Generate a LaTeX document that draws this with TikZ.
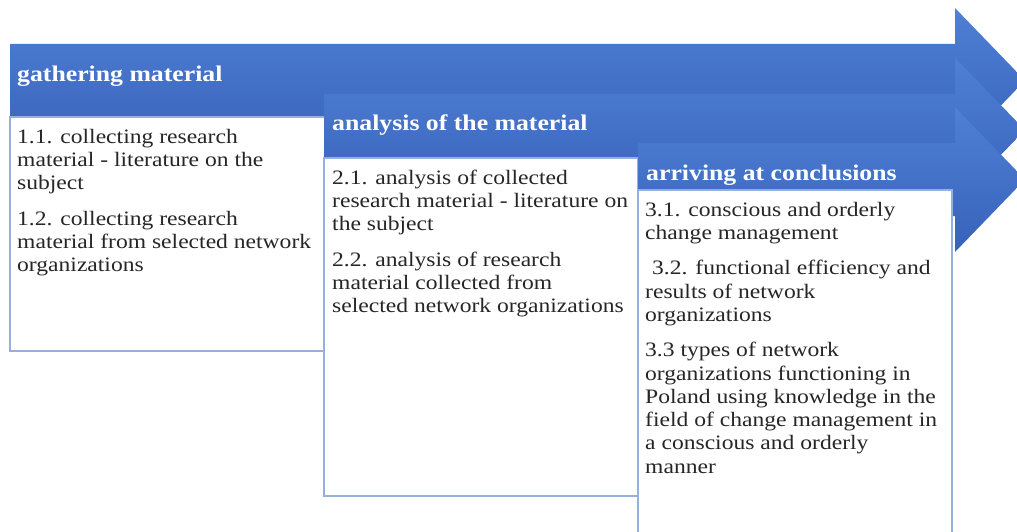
\documentclass[tikz,border=0pt]{standalone}
\usepackage{fontspec}
\setmainfont{Liberation Serif}[FakeStretch=1.15]
\definecolor{bluetop}{RGB}{78,128,212}
\definecolor{bluebot}{RGB}{56,98,186}
\definecolor{boxline}{RGB}{150,176,222}
\definecolor{txt}{RGB}{38,38,38}
\tikzset{
  arrowshape/.style={top color=bluetop, bottom color=bluebot, draw=none},
  stagebox/.style={fill=white, draw=boxline, line width=1.2pt},
  headtext/.style={font=\fontsize{22.4}{26}\selectfont\bfseries, text=white, anchor=base west, inner sep=0pt},
  bodytext/.style={font=\fontsize{20.5}{23.3}\selectfont, text=txt, anchor=north west, inner sep=0pt, align=left},
}
\begin{document}
\begin{tikzpicture}[x=1pt,y=-1pt]
\useasboundingbox (0,0) rectangle (1017,532);
\clip (0,0) rectangle (1017,532);
% stage 1
\path[arrowshape] (10,44) -- (955,44) -- (955,8) -- (1025,80.5) -- (955,153) -- (955,117) -- (10,117) -- cycle;
\path[stagebox] (10,117) rectangle (325,351);
\node[headtext] (h1) at (17,82) {gathering material};
\node[bodytext] (b1) at (17,126.7) {\strut 1.1. collecting research\\material - literature on the\\subject\\[12pt]1.2. collecting research\\material from selected network\\organizations};
% stage 2
\path[arrowshape] (324,94) -- (955,94) -- (955,58) -- (1025,130) -- (955,202) -- (955,166) -- (324,166) -- cycle;
\path[stagebox] (324,158) rectangle (638,496);
\node[headtext] (h2) at (332,131) {analysis of the material};
\node[bodytext] (b2) at (332,167.7) {\strut 2.1. analysis of collected\\research material - literature on\\the subject\\[12pt]2.2. analysis of research\\material collected from\\selected network organizations};
% stage 3
\path[arrowshape] (638,143) -- (955,143) -- (955,107) -- (1025,179.5) -- (955,252) -- (955,216) -- (638,216) -- cycle;
\path[stagebox] (638,190) rectangle (952,545);
\node[headtext] (h3) at (646,180) {arriving at conclusions};
\node[bodytext] (b3) at (645,199.7) {\strut 3.1. conscious and orderly\\change management\\[12pt]\hspace*{7pt}3.2. functional efficiency and\\results of network\\organizations\\[12pt]3.3 types of network\\organizations functioning in\\Poland using knowledge in the\\field of change management in\\a conscious and orderly\\manner};
\end{tikzpicture}
\end{document}
